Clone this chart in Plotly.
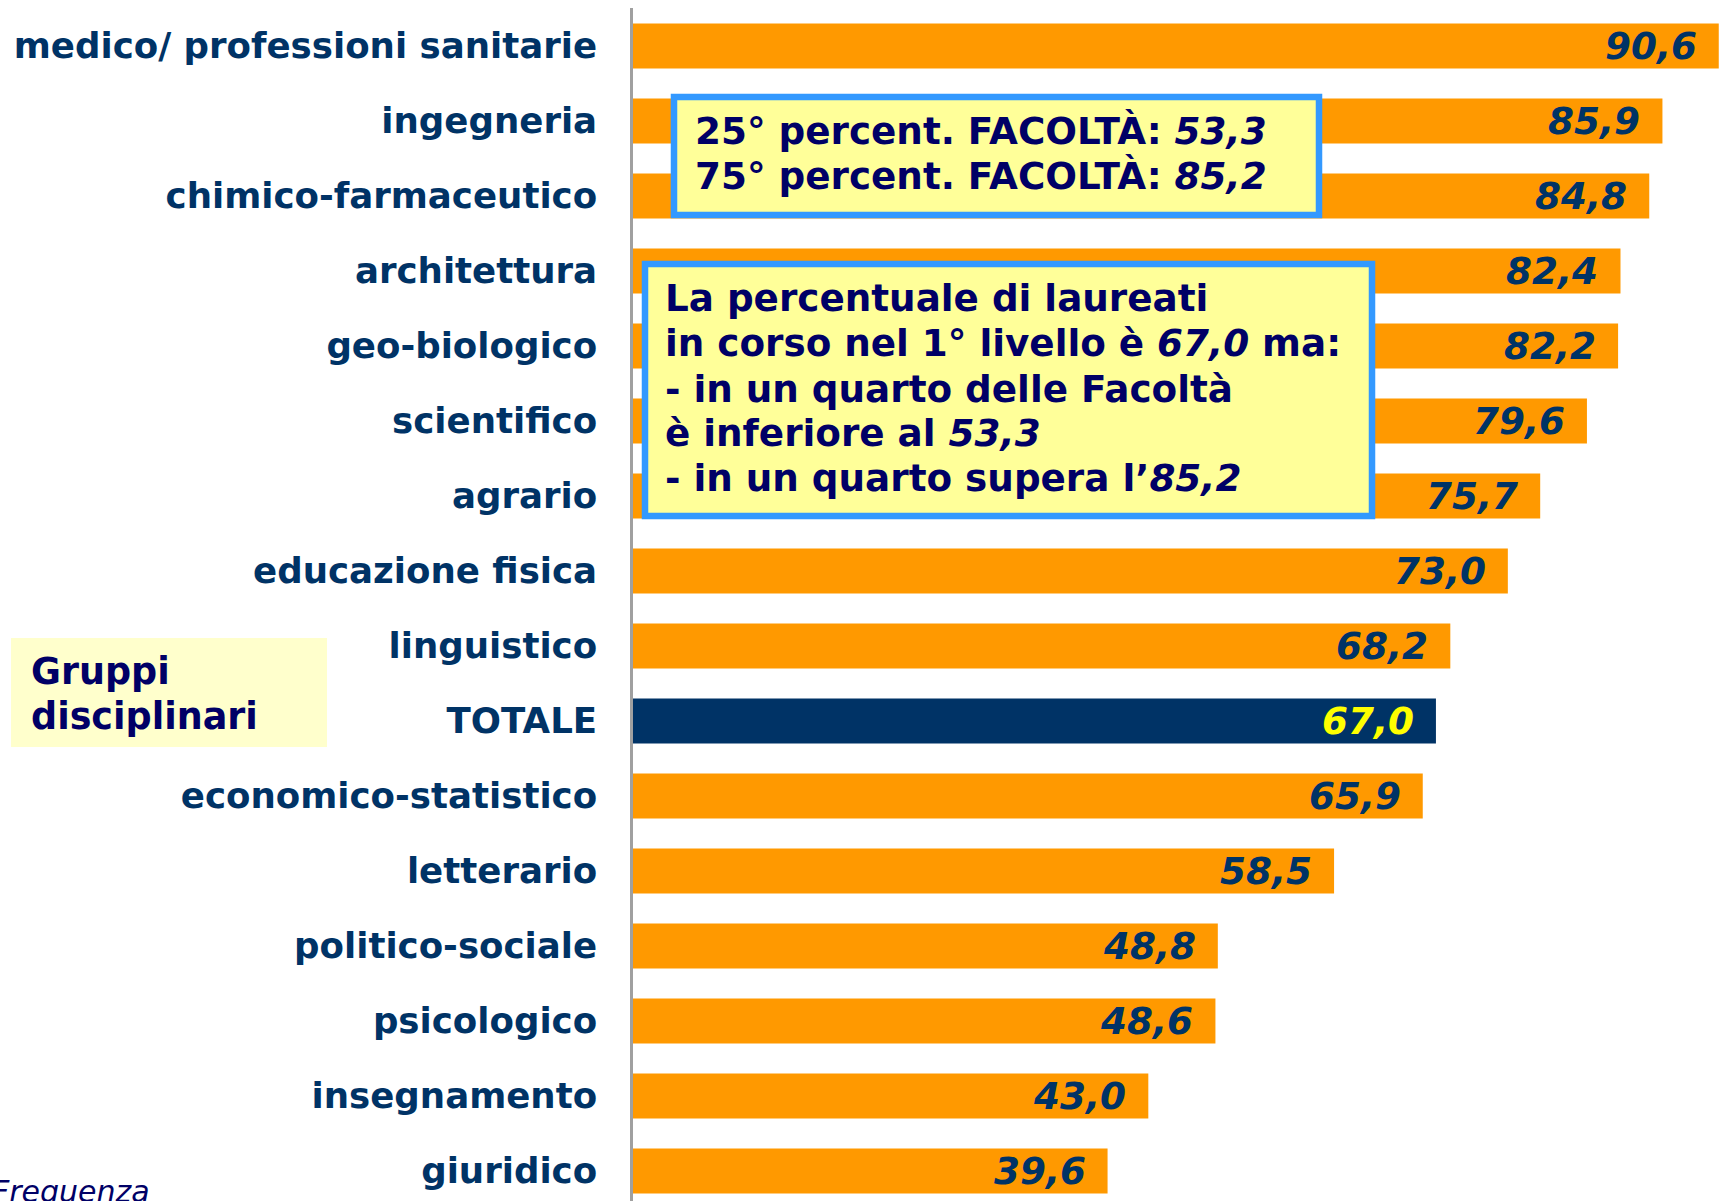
import plotly.graph_objects as go

# ---------------- data ----------------
categories = [
    "medico/ professioni sanitarie", "ingegneria", "chimico-farmaceutico",
    "architettura", "geo-biologico", "scientifico", "agrario",
    "educazione fisica", "linguistico", "TOTALE", "economico-statistico",
    "letterario", "politico-sociale", "psicologico", "insegnamento", "giuridico",
]
values = [90.6, 85.9, 84.8, 82.4, 82.2, 79.6, 75.7, 73.0, 68.2, 67.0,
          65.9, 58.5, 48.8, 48.6, 43.0, 39.6]
total_label = "TOTALE"
p25 = 53.3
p75 = 85.2
total_value = 67.0
legend_title = ["Gruppi", "disciplinari"]
footer = "Frequenza"


def it(v):
    return f"{v:.1f}".replace(".", ",")


box1_lines = [
    f"25° percent. FACOLTÀ: <i>{it(p25)}</i>",
    f"75° percent. FACOLTÀ: <i>{it(p75)}</i>",
]
box2_lines = [
    "La percentuale di laureati",
    f"in corso nel 1° livello è <i>{it(total_value)}</i> ma:",
    "- in un quarto delle Facoltà",
    f"è inferiore al <i>{it(p25)}</i>",
    f"- in un quarto supera l’<i>{it(p75)}</i>",
]

# ---------------- layout helpers ----------------
FIG_W, FIG_H = 1719, 1201
ML, MR, MT, MB = 633, 0, 8, 0
PW = FIG_W - ML - MR
PH = FIG_H - MT - MB


def xp(px):
    return (px - ML) / PW


def yp(py):
    return (FIG_H - MB - py) / PH


ORANGE = "#FF9900"
NAVY = "#003366"
DARK = "#000066"
FONT = "DejaVu Sans"

colors = [NAVY if c == total_label else ORANGE for c in categories]

fig = go.Figure(
    go.Bar(
        x=values,
        y=categories,
        orientation="h",
        marker=dict(color=colors, line=dict(width=0)),
        hoverinfo="skip",
    )
)

annotations = []
for c, v in zip(categories, values):
    annotations.append(dict(
        x=v, y=c, xref="x", yref="y", text=f"<b><i>{it(v)}</i></b>",
        showarrow=False, xanchor="right", yanchor="middle", xshift=-20,
        font=dict(family=FONT, size=37.3, color="#FFFF00" if c == total_label else NAVY),
    ))

box_font = dict(family=FONT, size=37.3, color=DARK)
for line, cy in zip(box1_lines, [131, 176]):
    annotations.append(dict(
        x=xp(693), y=yp(cy), xref="paper", yref="paper", text=f"<b>{line}</b>",
        showarrow=False, xanchor="left", yanchor="middle", font=box_font,
    ))
for line, cy in zip(box2_lines, [298, 343, 388.5, 433, 478.5]):
    annotations.append(dict(
        x=xp(663), y=yp(cy), xref="paper", yref="paper", text=f"<b>{line}</b>",
        showarrow=False, xanchor="left", yanchor="middle", font=box_font,
    ))
for line, cy in zip(legend_title, [671, 716]):
    annotations.append(dict(
        x=xp(29), y=yp(cy), xref="paper", yref="paper", text=f"<b>{line}</b>",
        showarrow=False, xanchor="left", yanchor="middle",
        font=dict(family=FONT, size=36.5, color=DARK),
    ))
annotations.append(dict(
    x=xp(152), y=yp(1191), xref="paper", yref="paper", text=f"<i>{footer}</i>",
    showarrow=False, xanchor="right", yanchor="middle",
    font=dict(family=FONT, size=30, color=DARK),
))

shapes = [
    dict(type="rect", xref="paper", yref="paper",
         x0=xp(11), x1=xp(327), y0=yp(747), y1=yp(638),
         fillcolor="#FFFFCC", line=dict(width=0), layer="below"),
    dict(type="rect", xref="paper", yref="paper",
         x0=xp(674), x1=xp(1319), y0=yp(215), y1=yp(97),
         fillcolor="#FFFF99", line=dict(color="#3399FF", width=6.5)),
    dict(type="rect", xref="paper", yref="paper",
         x0=xp(645), x1=xp(1372), y0=yp(516), y1=yp(264),
         fillcolor="#FFFF99", line=dict(color="#3399FF", width=6.5)),
]

slot = 75.0
first_center = 46.0
y_top = -(first_center - MT) / slot
y_bot = (FIG_H - MB - first_center) / slot

fig.update_layout(
    width=FIG_W, height=FIG_H,
    margin=dict(l=ML, r=MR, t=MT, b=MB, pad=0),
    paper_bgcolor="white", plot_bgcolor="white",
    bargap=0.4, showlegend=False,
    annotations=annotations, shapes=shapes,
    xaxis=dict(range=[0, 90.62], showgrid=False, zeroline=False,
               showticklabels=False, showline=False, ticks=""),
    yaxis=dict(type="category", categoryorder="array", categoryarray=categories,
               range=[y_bot, y_top], showgrid=False, zeroline=False,
               showline=True, linecolor="#A0A0A0", linewidth=2.5, ticks="",
               ticklabelstandoff=26,
               tickfont=dict(family=FONT, size=35.6, color=NAVY, weight="bold")),
)

fig.write_html(
    "out.html",
    config={"displayModeBar": False},
    post_script="document.body.style.margin='0';document.body.style.padding='0';",
)
